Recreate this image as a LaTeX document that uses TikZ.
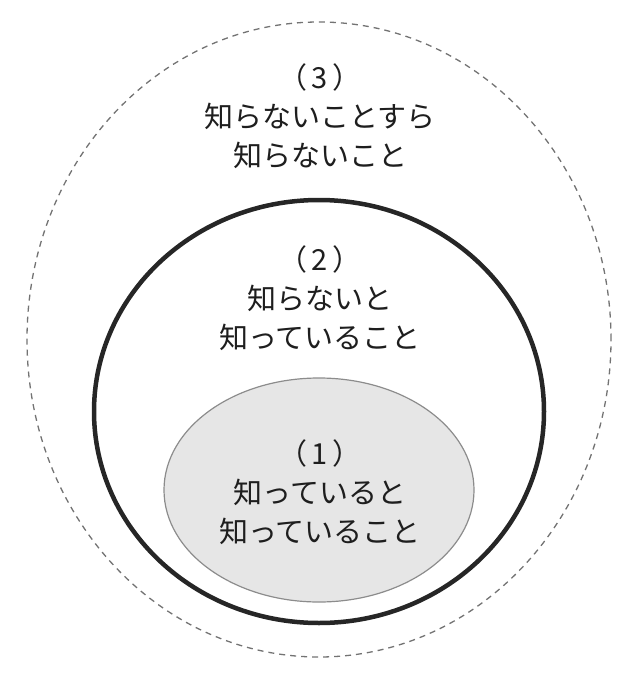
\documentclass[tikz,border=0pt]{standalone}
\usepackage{fontspec}
\setmainfont{Noto Sans CJK JP}
\usetikzlibrary{shapes.geometric}
\definecolor{zoneink}{HTML}{1E1E1E}
\definecolor{zonefill}{HTML}{E6E6E6}
\tikzset{
  zone/.style = {ellipse, inner sep=0, outer sep=0},
  unknownzone/.style = {zone, draw=black!55, line width=1.3pt, dash pattern=on 6pt off 5pt},
  knownzone/.style = {zone, draw=black!85, line width=4.5pt},
  fullzone/.style = {zone, draw=black!45, line width=1.2pt, fill=zonefill},
  zonetext/.style = {align=center, text=zoneink, font=\fontsize{29}{39}\selectfont},
}

\begin{document}
\begin{tikzpicture}[x=1pt, y=-1pt]
  \useasboundingbox (0,0) rectangle (640,680);
  % outer to inner, centres and sizes in pixels of the sketch
  \foreach \N/\y/\w/\h/\s in {
    3/339.5/584/635/unknownzone,
    2/411.5/450/423/knownzone,
    1/490/310/224/fullzone%
  }{
    \node (zone\N) [\s, minimum width=\w, minimum height=\h] at (319,\y) {};
  }
  \node (text3) [zonetext] at (320,116) {（\,3\,）\\知らないことすら\\知らないこと};
  \node (text2) [zonetext] at (320,298) {（\,2\,）\\知らないと\\知っていること};
  \node (text1) [zonetext] at (320,492) {（\,1\,）\\知っていると\\知っていること};
\end{tikzpicture}
\end{document}
